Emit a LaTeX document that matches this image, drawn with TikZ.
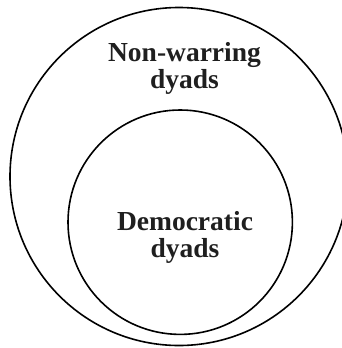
\documentclass[tikz,border=0pt]{standalone}
\usepackage{fontspec}
\setmainfont{Liberation Serif}
\begin{document}
\begin{tikzpicture}[x=1pt,y=-1pt,
  ring/.style={draw=black,line width=1.6pt},
  lbl/.style={inner sep=0pt,align=center,font=\fontsize{27.5}{27}\selectfont\bfseries,text=black!88}]
\useasboundingbox (0,0) rectangle (342,348);
\draw[ring] (179,176.5) circle [radius=169];
\draw[ring] (180.2,222.2) circle [radius=112.2];
\node[lbl] (outerlbl) at (184.5,68.5) {Non-warring\\dyads};
\node[lbl] (innerlbl) at (185,237.5) {Democratic\\dyads};
\end{tikzpicture}
\end{document}
